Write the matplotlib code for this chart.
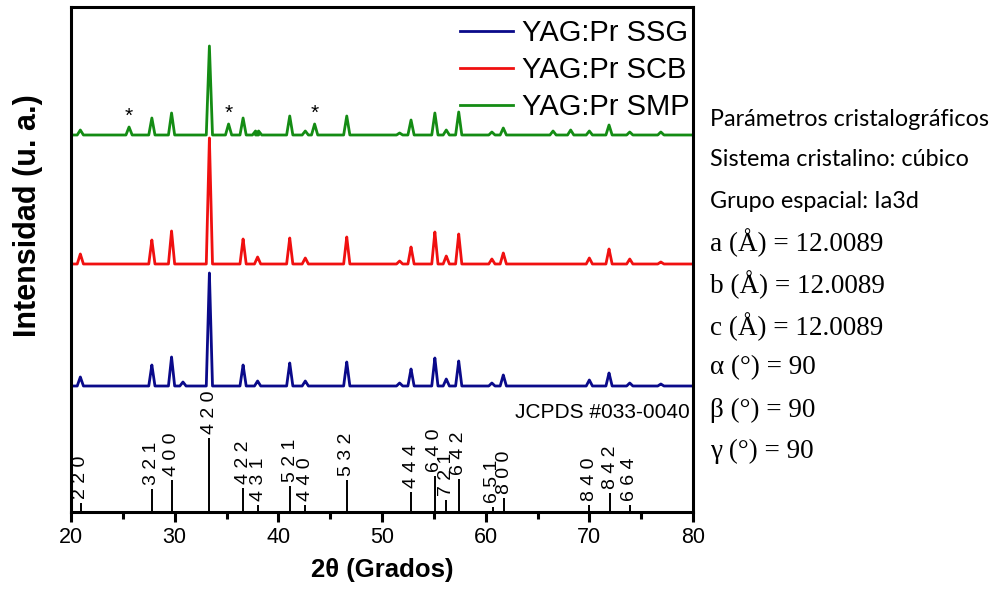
import numpy as np
import matplotlib
matplotlib.use('Agg')
import matplotlib.pyplot as plt

# ---- data (intensity in arbitrary units) ----
# YAG:Pr SSG (blue)
ssg_pos = [20.9, 27.8, 29.7, 30.8, 33.35, 36.6, 38.0, 41.1, 42.6, 46.6,
           51.7, 52.8, 55.1, 56.2, 57.4, 60.6, 61.7, 70.0, 71.9, 73.9, 76.9]
ssg_int = [9, 21, 29, 4, 113, 21, 5, 23, 5, 24,
           3, 17, 28, 7, 25, 3, 11, 6, 13, 3, 2]
# YAG:Pr SCB (red)
scb_pos = [20.9, 27.8, 29.7, 33.35, 36.6, 38.0, 41.1, 42.6, 46.6,
           51.7, 52.8, 55.1, 56.2, 57.4, 60.6, 61.7, 70.0, 71.9, 73.9, 76.9]
scb_int = [10, 24, 33, 126, 25, 7, 26, 6, 27,
           3, 17, 32, 8, 30, 5, 11, 6, 15, 5, 2]
# YAG:Pr SMP (green), * = secondary phase
smp_pos = [20.9, 25.6, 27.8, 29.7, 33.35, 35.2, 36.6, 37.8, 38.1, 41.1, 42.6, 43.5,
           46.6, 51.7, 52.8, 55.1, 56.2, 57.4, 60.6, 61.7, 66.5, 68.2, 70.0, 71.9,
           73.9, 76.9]
smp_int = [5, 8, 17, 22, 89, 11, 17, 4, 4, 19, 4, 11,
           19, 2, 15, 22, 5, 23, 3, 7, 4, 5, 4, 10,
           3, 3]
star_pos = [25.6, 35.2, 43.5]

# JCPDS #033-0040 reference pattern
ref_pos = [20.96, 27.8, 29.74, 33.36, 36.63, 38.05, 41.14, 42.6, 46.6,
           52.8, 55.1, 56.2, 57.4, 60.7, 61.8, 70.0, 72.0, 73.9]
ref_int = [9, 23, 32, 74, 24, 7, 26, 7, 32,
           20, 36, 12, 33, 5, 14, 7, 19, 7]
ref_hkl = ['2 2 0', '3 2 1', '4 0 0', '4 2 0', '4 2 2', '4 3 1', '5 2 1', '4 4 0', '5 3 2',
           '4 4 4', '6 4 0', '7 2 1', '6 4 2', '6 5 1', '8 0 0', '8 4 0', '8 4 2', '6 6 4']

params = ['Parámetros cristalográficos', 'Sistema cristalino: cúbico', 'Grupo espacial: Ia3d',
          'a (Å) = 12.0089', 'b (Å) = 12.0089', 'c (Å) = 12.0089',
          'α (°) = 90', 'β (°) = 90', 'γ (°) = 90']

# stacking offsets for the three patterns
offsets = {'ssg': 126, 'scb': 248, 'smp': 377}
hw = 0.3   # half base width of drawn peaks (deg)


def trace(pos, inten, off):
    x, y = [20.0], [off]
    for p, h in zip(pos, inten):
        x += [p - hw, p - 0.06, p, p + 0.06, p + hw]
        y += [off, off + 0.8 * h, off + h, off + 0.8 * h, off]
    x.append(80.0); y.append(off)
    return np.array(x), np.array(y)


plt.rcParams['font.family'] = ['Liberation Sans', 'DejaVu Sans']
fig = plt.figure(figsize=(9.94, 5.95), dpi=100)
ax = fig.add_axes([71 / 994, 1 - 512 / 595, (693 - 71) / 994, (512 - 7) / 595])

series = [
    ('YAG:Pr SSG', ssg_pos, ssg_int, offsets['ssg'], '#0a0a8a'),
    ('YAG:Pr SCB', scb_pos, scb_int, offsets['scb'], '#f01010'),
    ('YAG:Pr SMP', smp_pos, smp_int, offsets['smp'], '#148c14'),
]
for name, pos, inten, off, col in series:
    x, y = trace(pos, inten, off)
    ax.plot(x, y, color=col, lw=2.0, label=name, solid_joinstyle='round')

for p in star_pos:
    h = smp_int[smp_pos.index(p)]
    ax.text(p, offsets['smp'] + h + 1, '*', ha='center', va='bottom', fontsize=15)

ax.vlines(ref_pos, 0, ref_int, color='black', lw=1.4)
for p, h, lab in zip(ref_pos, ref_int, ref_hkl):
    ax.text(p, h + 4, lab, rotation=90, ha='center', va='bottom', fontsize=14)
ax.text(79.7, 99, 'JCPDS #033-0040', ha='right', va='center', fontsize=15)

ax.set_xlim(20, 80)
ax.set_ylim(0, 505)
ax.set_xticks(np.arange(20, 81, 10))
ax.set_xticks(np.arange(25, 80, 10), minor=True)
ax.set_yticks([])
ax.tick_params(axis='x', which='major', direction='out', length=7, width=2.2,
               labelsize=15.5, pad=4)
ax.tick_params(axis='x', which='minor', direction='out', length=5, width=2.2)
for s in ax.spines.values():
    s.set_linewidth(2.2)

ax.set_xlabel('2θ (Grados)', fontsize=18.5, fontweight='bold', labelpad=7)
fig.text(28 / 994, 1 - 216 / 595, 'Intensidad (u. a.)', rotation=90, ha='center',
         va='center', fontsize=22, fontweight='bold')

ax.legend(loc='upper right', bbox_to_anchor=(1.022, 1.01), frameon=False, fontsize=21,
          handlelength=1.8, handletextpad=0.3, labelspacing=0.3, borderaxespad=0.2)

ys = [119, 160, 201, 243, 285, 327, 368, 410, 451]
for i, (t, yy) in enumerate(zip(params, ys)):
    if i < 3:
        fig.text(710 / 994, 1 - yy / 595, t, ha='left', va='center', fontsize=16.8,
                 family=['Lato', 'DejaVu Sans'])
    else:
        fig.text(710 / 994, 1 - yy / 595, t, ha='left', va='center', fontsize=19.5,
                 family=['Liberation Serif', 'DejaVu Serif'])

fig.savefig('out.png', dpi=100)
